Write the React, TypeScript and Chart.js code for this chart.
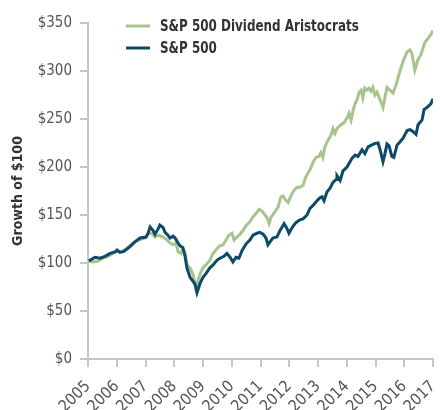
import React, { useEffect, useRef } from "react";
import { Chart, registerables } from "chart.js";

Chart.register(...registerables);

// ---- Data (decimal years, growth of $100) ----
const aristocratsLabel = "S&P 500 Dividend Aristocrats";
const sp500Label = "S&P 500";

const aristocratsYears = [
  2005.03, 2005.17, 2005.35, 2005.52, 2005.7, 2005.87, 2006.01, 2006.15, 2006.36, 2006.57,
  2006.77, 2006.98, 2007.12, 2007.23, 2007.33, 2007.47, 2007.61, 2007.75, 2007.85, 2007.96,
  2008.06, 2008.13, 2008.23, 2008.3, 2008.37, 2008.44, 2008.55, 2008.65, 2008.76, 2008.83,
  2008.9, 2009.0, 2009.1, 2009.24, 2009.35, 2009.49, 2009.59, 2009.7, 2009.8, 2009.9,
  2010.01, 2010.08, 2010.18, 2010.29, 2010.39, 2010.5, 2010.63, 2010.74, 2010.88, 2010.95,
  2011.05, 2011.16, 2011.23, 2011.3, 2011.37, 2011.47, 2011.61, 2011.71, 2011.78, 2011.89,
  2011.96, 2012.06, 2012.17, 2012.27, 2012.37, 2012.48, 2012.58, 2012.72, 2012.83, 2012.93,
  2013.03, 2013.1, 2013.17, 2013.24, 2013.35, 2013.45, 2013.52, 2013.59, 2013.66, 2013.73,
  2013.8, 2013.9, 2014.01, 2014.08, 2014.15, 2014.22, 2014.29, 2014.36, 2014.43, 2014.5,
  2014.56, 2014.63, 2014.7, 2014.77, 2014.84, 2014.91, 2014.98, 2015.05, 2015.16, 2015.26,
  2015.33, 2015.4, 2015.5, 2015.61, 2015.71, 2015.85, 2015.96, 2016.1, 2016.2, 2016.27,
  2016.37, 2016.48, 2016.58, 2016.72, 2016.83, 2016.93, 2017.0,
];
const aristocratsValues = [
  102, 101, 102, 105, 107, 110, 112.5, 111.5, 115.5, 121,
  124, 126, 131, 131, 127, 129, 127, 124, 121, 119,
  121, 112, 110, 115, 111, 98, 95, 88, 75, 82,
  89, 95, 98, 103, 110, 115, 118, 119, 124, 129,
  131, 124, 127, 130, 134, 139, 143, 148, 153, 156,
  154, 150, 147, 141, 148, 152, 158, 169, 170, 165,
  163, 170, 176, 179, 179, 181, 190, 197, 205, 210,
  211, 215, 210, 221, 228, 233, 240, 235, 240, 242,
  244, 246, 251, 256, 249, 259, 266, 270, 278, 280,
  272, 282, 280, 282, 279, 283, 275, 278, 270, 262,
  273, 283, 280, 277, 285, 300, 310, 320, 322, 318,
  301, 312, 317, 330, 334, 338, 342,
];

const sp500Years = [
  2005.03, 2005.24, 2005.42, 2005.59, 2005.77, 2005.94, 2006.01, 2006.11, 2006.25, 2006.46,
  2006.63, 2006.81, 2007.02, 2007.09, 2007.16, 2007.26, 2007.33, 2007.43, 2007.5, 2007.61,
  2007.68, 2007.78, 2007.85, 2007.96, 2008.03, 2008.13, 2008.2, 2008.3, 2008.37, 2008.44,
  2008.55, 2008.65, 2008.72, 2008.79, 2008.9, 2009.0, 2009.1, 2009.24, 2009.35, 2009.49,
  2009.59, 2009.73, 2009.83, 2009.94, 2010.04, 2010.15, 2010.25, 2010.36, 2010.5, 2010.63,
  2010.74, 2010.88, 2010.98, 2011.09, 2011.19, 2011.26, 2011.33, 2011.43, 2011.57, 2011.68,
  2011.82, 2011.92, 2011.99, 2012.1, 2012.23, 2012.37, 2012.48, 2012.62, 2012.72, 2012.83,
  2012.97, 2013.07, 2013.14, 2013.21, 2013.31, 2013.42, 2013.52, 2013.63, 2013.66, 2013.77,
  2013.87, 2014.01, 2014.18, 2014.29, 2014.39, 2014.53, 2014.63, 2014.74, 2014.88, 2014.98,
  2015.09, 2015.16, 2015.26, 2015.33, 2015.4, 2015.47, 2015.57, 2015.64, 2015.75, 2015.85,
  2015.96, 2016.1, 2016.2, 2016.3, 2016.41, 2016.48, 2016.62, 2016.69, 2016.79, 2016.93,
  2017.0,
];
const sp500Values = [
  102, 106, 105, 107, 110, 111.5, 113.5, 111, 112, 117,
  122, 126, 127, 131, 137.5, 134, 130, 135, 139.5, 137,
  132, 129, 126, 128, 126, 121, 118, 116, 108, 95,
  85, 81, 78, 69, 79, 85, 89, 95, 98, 103,
  105, 107, 110, 106, 101, 106, 105, 113, 120, 124,
  129, 131, 132, 130, 126, 119, 122, 126, 127, 134,
  141, 136, 131, 137, 142, 145, 146, 150, 157, 160,
  165, 168, 169, 165, 174, 178, 184, 187, 191, 186,
  196, 200, 209, 212.5, 211, 218, 214, 221, 223, 224.6,
  225, 218, 205.5, 214, 224, 222, 211, 210, 223, 226,
  230, 238, 239, 237, 234, 244, 249, 260, 262, 266,
  271,
];

const xMin = 2005;
const xMax = 2017;
const yMin = 0;
const yMax = 350;
const yStep = 50;
const yTitle = "Growth of $100";

const GREEN = "#a6c58c";
const NAVY = "#0c4a66";
const AXIS = "#c6c6c6";
const FONT = "'Liberation Sans Narrow', 'DejaVu Sans Condensed', 'Roboto Condensed', Roboto, sans-serif";

const insideLegend = {
  id: "insideLegend",
  afterDraw(chart: any) {
    const ctx = chart.ctx;
    const items = [chart.data.datasets[0], chart.data.datasets[1]];
    ctx.save();
    let y = 26;
    for (const ds of items) {
      ctx.strokeStyle = ds.borderColor;
      ctx.lineWidth = 3;
      ctx.beginPath();
      ctx.moveTo(126, y);
      ctx.lineTo(150, y);
      ctx.stroke();
      ctx.save();
      ctx.fillStyle = "#333333";
      ctx.font = `bold 15px ${FONT}`;
      ctx.textBaseline = "middle";
      ctx.textAlign = "left";
      ctx.translate(160, y + 1);
      ctx.scale(0.885, 1);
      ctx.fillText(ds.label, 0, 0);
      ctx.restore();
      y += 22;
    }
    ctx.restore();
  },
};

export default function App() {
  const ref = useRef<HTMLCanvasElement | null>(null);

  useEffect(() => {
    if (!ref.current) return;
    const chart = new Chart(ref.current, {
      type: "line",
      data: {
        datasets: [
          {
            label: aristocratsLabel,
            data: aristocratsYears.map((x, i) => ({ x, y: aristocratsValues[i] })),
            borderColor: GREEN,
            backgroundColor: GREEN,
            borderWidth: 3,
            pointRadius: 0,
            tension: 0,
            order: 2,
          },
          {
            label: sp500Label,
            data: sp500Years.map((x, i) => ({ x, y: sp500Values[i] })),
            borderColor: NAVY,
            backgroundColor: NAVY,
            borderWidth: 3,
            pointRadius: 0,
            tension: 0,
            order: 1,
          },
        ],
      },
      options: {
        animation: false,
        responsive: false,
        maintainAspectRatio: false,
        layout: { padding: { left: 0, right: 7, top: 23, bottom: 0 } },
        plugins: {
          legend: { display: false },
          tooltip: { enabled: false },
        },
        scales: {
          x: {
            type: "linear",
            min: xMin,
            max: xMax,
            ticks: {
              stepSize: 1,
              autoSkip: false,
              maxRotation: 45,
              minRotation: 45,
              color: "#555555",
              font: { family: FONT, size: 16 },
              padding: 10,
              callback: (v: any) => String(v),
            },
            grid: { drawOnChartArea: false, drawTicks: true, tickLength: 8, color: AXIS, lineWidth: 2 },
            border: { display: true, color: AXIS, width: 2 },
            afterFit: (s: any) => {
              s.height = 51;
              s.paddingLeft = 0;
              s.paddingRight = 0;
            },
          },
          y: {
            type: "linear",
            min: yMin,
            max: yMax,
            ticks: {
              stepSize: yStep,
              color: "#555555",
              font: { family: FONT, size: 15 },
              padding: 8,
              callback: (v: any) => "$" + v,
            },
            grid: { drawOnChartArea: false, drawTicks: true, tickLength: 8, color: AXIS, lineWidth: 2 },
            border: { display: true, color: AXIS, width: 2 },
            title: {
              display: true,
              text: yTitle,
              color: "#333333",
              font: { family: FONT, size: 14, weight: "bold" },
              padding: { top: 10, bottom: 0 },
            },
            afterFit: (s: any) => {
              s.width = 88;
              s.paddingTop = 0;
              s.paddingBottom = 0;
            },
          },
        },
      },
      plugins: [insideLegend],
    });
    return () => chart.destroy();
  }, []);

  return (
    <div style={{ position: "fixed", left: 0, top: 0, width: 440, height: 410, background: "#fff" }}>
      <canvas ref={ref} width={440} height={410} style={{ width: 440, height: 410 }} />
    </div>
  );
}
